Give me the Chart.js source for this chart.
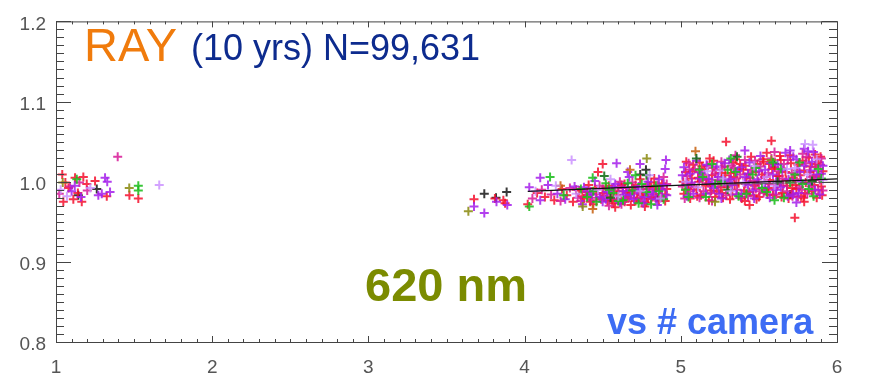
<!DOCTYPE html>
<html>
<head>
<meta charset="utf-8">
<script src="https://cdn.jsdelivr.net/npm/chart.js@4"></script>
<style>
  html, body { margin: 0; padding: 0; background: #fff; }
  #wrap { width: 869px; height: 375px; }
</style>
</head>
<body>
<div id="wrap"><canvas id="chart" width="869" height="375"></canvas></div>
<script>
// ---- axis ticks ----
const xTicks = [1, 2, 3, 4, 5, 6];
const yTicks = [0.8, 0.9, 1.0, 1.1, 1.2];

// ---- points, one list per marker colour ----
const redPts = [
  [1.04,1.009],[1.175,1.006],[1.122,1.005],[1.25,1.001],[1.197,0.997],[1.325,0.982],[1.047,0.975],
  [1.111,0.978],[1.165,0.975],[1.47,0.983],[1.527,0.979],[1.08,0.992],[1.14,0.986],[1.06,0.999],
  [3.676,0.978],[3.81,0.979],[3.864,0.977],[3.875,0.973],
  [4.02,0.972],[4.08,0.986],[4.13,0.981],[4.19,0.977],[4.24,0.991],[4.27,0.983],[4.31,0.975],[4.35,0.989],
  [4.38,0.979],[4.41,0.996],[4.44,0.972],[4.46,0.985],[4.49,0.978],[4.52,0.993],[4.55,0.981],[4.57,0.973],
  [4.6,0.988],[4.62,0.977],[4.64,0.997],[4.66,0.982],[4.68,0.971],[4.7,0.99],[4.72,0.979],[4.74,1.003],
  [4.76,0.985],[4.78,0.974],[4.8,0.994],[4.82,0.981],[4.84,0.989],[4.86,0.976],[4.88,0.998],[4.9,0.984],
  [4.47,1.012],[4.58,0.968],[4.71,0.996],[4.83,1.004],[4.65,0.986],[4.53,0.976],[4.91,0.991],[4.77,0.969],
  [4.5,1.022],
  [4.33,0.99],[4.37,0.982],[4.42,0.975],[4.45,0.992],[4.5,0.986],[4.54,0.995],[4.59,0.983],[4.62,0.996],
  [4.67,0.988],[4.71,0.976],[4.75,0.983],[4.79,0.979],[4.83,0.993],[4.87,0.991],[4.9,0.976],[4.56,0.977],
  [4.69,0.993],[4.81,0.999],[4.64,0.975],[4.4,0.987],
  [5.02,0.985],[5.03,1.012],[5.05,0.997],[5.06,0.979],[5.08,1.021],[5.1,0.99],[5.11,1.005],[5.13,0.983],
  [5.15,1.016],[5.16,0.995],[5.18,0.977],[5.2,1.008],[5.21,1.026],[5.23,0.988],[5.25,1.001],[5.27,0.98],
  [5.28,1.019],[5.3,0.993],[5.32,1.011],[5.33,0.984],[5.35,1.028],[5.37,0.998],[5.39,0.979],[5.4,1.015],
  [5.42,1.004],[5.44,0.987],[5.45,1.031],[5.47,0.995],[5.49,1.022],[5.5,0.981],[5.52,1.009],[5.54,0.99],
  [5.55,1.036],[5.57,1.002],[5.59,0.983],[5.6,1.018],[5.62,0.996],[5.64,1.027],[5.65,0.986],[5.67,1.012],
  [5.69,0.979],[5.7,1.033],[5.72,1.005],[5.74,0.991],[5.75,1.021],[5.77,0.982],[5.79,1.014],[5.8,0.999],
  [5.82,1.03],[5.84,0.988],[5.85,1.008],[5.87,0.98],[5.88,1.024],[5.9,0.994],[5.91,1.013],[5.12,1.024],
  [5.26,1.011],[5.41,0.976],[5.56,0.992],[5.71,0.985],[5.86,1.034],[5.19,0.996],[5.34,1.006],[5.48,1.012],
  [5.63,1.007],[5.78,1.026],[5.07,1.004],[5.22,0.981],[5.38,1.022],[5.53,1.025],[5.68,0.995],[5.83,1.019],
  [5.015,1.0],[5.045,0.991],[5.075,1.013],[5.105,0.982],[5.135,1.019],[5.165,1.003],[5.195,0.989],[5.225,1.015],
  [5.255,0.993],[5.285,1.008],[5.315,0.978],[5.345,0.996],[5.375,1.016],[5.405,0.989],[5.435,1.01],[5.465,0.983],
  [5.495,1.0],[5.525,1.028],[5.555,0.984],[5.585,1.016],[5.615,1.007],[5.645,0.981],[5.675,1.002],[5.705,1.023],
  [5.735,0.996],[5.765,1.008],[5.795,0.986],[5.825,1.012],[5.855,0.996],[5.885,1.006],[5.905,0.983],[5.035,1.025],
  [5.185,1.029],[5.335,1.024],[5.485,0.978],[5.635,1.032],[5.785,0.98],[5.895,1.031],[5.115,1.0],[5.265,0.986],
  [5.415,1.02],[5.565,1.022],[5.715,0.992],[5.865,1.022],
  [5.29,1.05],[5.58,1.051],[5.73,0.955],[5.79,0.975],[5.44,0.971]
];
const magentaPts = [
  [1.395,1.031],[1.021,0.985],[1.09,0.994],[1.15,0.999],[1.2,0.989],
  [4.05,0.979],[4.11,0.99],[4.17,0.984],[4.23,0.976],[4.29,0.992],[4.34,0.98],[4.39,0.987],[4.43,0.977],
  [4.48,0.995],[4.51,0.983],[4.56,0.99],[4.59,0.978],[4.63,0.992],[4.67,0.98],[4.69,0.999],[4.73,0.987],
  [4.75,0.975],[4.79,0.991],[4.81,0.978],[4.85,0.996],[4.87,0.984],[4.89,1.006],[4.61,1.0],[4.54,0.97],
  [4.36,0.976],[4.41,0.983],[4.46,0.98],[4.5,0.991],[4.55,0.985],[4.6,0.994],[4.65,0.979],[4.7,0.985],
  [4.74,0.98],[4.78,0.996],[4.83,0.984],[4.88,0.981],[4.91,0.997],[4.62,0.972],[4.76,0.991],
  [5.01,0.994],[5.04,1.007],[5.06,0.988],[5.09,1.016],[5.12,0.98],[5.14,1.002],[5.17,1.02],[5.19,0.986],
  [5.22,1.01],[5.24,0.994],[5.26,1.025],[5.29,0.983],[5.31,1.003],[5.34,1.017],[5.36,0.99],[5.38,1.009],
  [5.41,1.027],[5.43,0.982],[5.46,1.001],[5.48,0.991],[5.51,1.019],[5.53,0.986],[5.56,1.011],[5.58,1.029],
  [5.61,0.984],[5.63,0.999],[5.66,1.022],[5.68,0.988],[5.71,1.011],[5.73,1.003],[5.76,0.993],[5.78,1.035],
  [5.81,0.985],[5.83,1.006],[5.86,1.018],[5.88,0.99],[5.9,1.029],[5.05,1.023],[5.2,0.976],[5.35,1.033],
  [5.5,0.997],[5.65,1.004],[5.8,1.023],[5.15,1.009],[5.45,1.015],[5.6,1.037],[5.75,0.981],[5.89,1.002],
  [5.025,0.979],[5.055,1.015],[5.085,0.993],[5.115,1.012],[5.145,0.988],[5.175,0.998],[5.205,1.017],[5.235,1.002],
  [5.265,1.018],[5.295,0.995],[5.325,1.02],[5.355,1.004],[5.385,0.981],[5.415,0.997],[5.445,1.005],[5.475,1.026],
  [5.505,0.988],[5.535,1.006],[5.565,0.997],[5.595,0.99],[5.625,1.013],[5.655,0.995],[5.685,1.027],[5.715,0.982],
  [5.745,1.014],[5.775,0.99],[5.805,1.031],[5.835,0.994],[5.865,1.004],[5.895,1.021],[5.91,0.989]
];
const purplePts = [
  [1.314,1.005],[1.328,1.0],[1.293,0.985],[1.271,0.983],[1.346,0.987],[1.1,0.988],[1.12,0.995],[1.16,0.981],
  [3.676,0.969],[3.742,0.961],[3.889,0.971],[3.82,0.975],
  [4.03,0.993],[4.1,0.977],[4.15,0.996],[4.21,0.985],[4.26,0.978],[4.32,0.994],[4.37,0.972],[4.42,0.988],
  [4.45,1.001],[4.5,0.975],[4.53,0.987],[4.58,0.997],[4.61,0.974],[4.64,0.984],[4.67,1.006],[4.7,0.978],
  [4.73,0.994],[4.76,0.973],[4.79,1.0],[4.82,0.987],[4.85,0.971],[4.88,0.99],[4.9,1.016],[4.905,1.027],
  [4.589,1.023],[4.739,1.022],[4.1,1.005],[4.66,1.012],
  [4.38,0.993],[4.43,0.984],[4.48,0.981],[4.52,0.978],[4.57,0.993],[4.63,0.988],[4.68,0.983],[4.72,0.99],
  [4.77,0.981],[4.8,0.985],[4.84,0.978],[4.89,0.996],[4.91,0.983],[4.66,0.993],[4.86,1.003],
  [5.02,1.018],[5.04,0.982],[5.07,0.999],[5.1,1.026],[5.13,1.011],[5.16,0.985],[5.18,1.004],[5.21,0.992],
  [5.23,1.019],[5.26,0.979],[5.28,1.001],[5.31,1.027],[5.33,0.996],[5.36,1.013],[5.39,0.985],[5.41,1.006],
  [5.44,1.024],[5.46,0.989],[5.49,1.003],[5.51,1.032],[5.54,1.015],[5.57,0.98],[5.59,1.009],[5.62,1.021],
  [5.64,0.993],[5.67,1.036],[5.69,1.003],[5.72,0.984],[5.74,1.028],[5.77,1.001],[5.79,1.041],[5.82,0.997],
  [5.84,1.025],[5.87,1.009],[5.89,0.984],[5.91,1.02],[5.06,1.01],[5.24,1.006],[5.43,0.996],[5.61,0.99],
  [5.76,1.012],[5.85,1.037],[5.74,0.974],[5.41,1.039],
  [5.01,1.008],[5.04,0.996],[5.08,0.985],[5.12,1.004],[5.165,1.021],[5.2,0.999],[5.245,0.985],[5.28,1.023],
  [5.32,1.003],[5.355,0.984],[5.39,1.018],[5.43,1.01],[5.47,0.979],[5.5,1.013],[5.54,0.993],[5.575,1.023],
  [5.61,1.0],[5.65,1.015],[5.685,0.982],[5.72,1.031],[5.755,0.986],[5.79,1.02],[5.83,1.014],[5.86,0.99],
  [5.9,1.01],[5.815,1.038],[5.7,1.039]
];
const violetPts = [
  [1.03,0.99],[1.07,0.982],[1.661,0.996],[1.22,0.992],
  [4.301,1.027],[4.07,0.988],[4.2,0.995],[4.33,0.985],[4.47,0.99],[4.6,0.982],[4.74,0.988],[4.87,0.979],
  [4.55,1.003],[4.8,1.008],
  [5.03,1.0],[5.11,0.993],[5.17,1.013],[5.27,1.004],[5.32,0.988],[5.4,0.999],[5.47,1.02],[5.53,1.0],
  [5.6,0.995],[5.68,1.016],[5.73,1.017],[5.81,1.009],[5.87,1.028],[5.91,1.002],[5.795,1.047],[5.845,1.046],
  [5.25,1.014],[5.55,1.006]
];
const greenPts = [
  [1.133,1.003],[1.527,0.995],[1.527,0.989],
  [4.03,0.969],[4.163,1.006],[4.25,0.983],[4.36,0.991],[4.4,0.981],[4.46,0.975],[4.52,0.998],[4.57,0.986],
  [4.63,0.977],[4.69,0.989],[4.75,0.997],[4.81,0.972],[4.86,0.988],[4.71,1.008],[4.436,1.005],
  [4.44,0.988],[4.54,0.99],[4.6,0.976],[4.66,0.998],[4.73,0.973],[4.78,0.987],[4.84,0.995],[4.89,0.978],
  [5.05,0.981],[5.14,1.006],[5.22,0.997],[5.3,1.015],[5.37,0.982],[5.46,1.009],[5.52,0.992],[5.59,1.024],
  [5.66,0.98],[5.73,1.009],[5.82,0.991],[5.88,1.016],[5.42,0.985],[5.2,1.022],[5.78,0.997],[5.6,0.977],
  [5.32,1.029],
  [5.03,0.99],[5.16,0.981],[5.26,1.0],[5.35,1.012],[5.48,1.017],[5.55,0.987],[5.64,1.016],[5.7,0.999],
  [5.76,1.024],[5.85,0.982],[5.9,1.004],[5.12,1.015]
];
const darkGreenPts = [
  [4.51,1.007],[4.78,1.008],[4.55,0.98],[5.1,1.029],[5.36,1.031],[5.62,1.0],[5.84,1.001],[5.3,0.99]
];
const olivePts = [
  [1.043,0.999],[1.469,0.992],[3.64,0.963],[4.372,0.969],[4.782,1.029],[5.219,0.975],[5.58,1.027]
];
const orangePts = [
  [4.436,0.966],[4.675,1.015],[5.094,1.038],[4.23,0.995]
];
const blackPts = [
  [1.261,0.991],[1.143,0.983],[3.742,0.985],[3.817,0.98],[3.885,0.987],[4.777,1.015],[4.74,1.009],
  [5.6,1.022],[5.7,0.984],[4.85,0.98]
];

// fitted trend lines
const trendX = [4.02, 6.0];
const trendY = [0.988, 1.0035];
const trend2X = [5.0, 6.0];
const trend2Y = [0.9958, 0.9995];

const toXY = pts => pts.map(p => ({ x: p[0], y: p[1] }));

function crossSet(pts, color) {
    return {
        type: 'scatter',
        data: toXY(pts),
        pointStyle: 'cross',
        pointRadius: 4.5,
        pointBorderWidth: 2,
        borderColor: color,
        backgroundColor: color,
        order: 2
    };
}

// frame + IDL style inward ticks on all four sides, and the text labels
const framePlugin = {
    id: 'frame',
    afterDraw(chart) {
        const { ctx, chartArea: a, scales } = chart;
        const xs = scales.x, ys = scales.y;
        ctx.save();
        ctx.strokeStyle = '#444';
        ctx.lineWidth = 1;
        ctx.strokeRect(a.left + 0.5, a.top + 0.5, a.right - a.left, a.bottom - a.top);
        ctx.beginPath();
        // y ticks, minor every 0.01
        for (let i = 0; i <= 40; i++) {
            const v = 0.8 + i * 0.01;
            const py = Math.round(ys.getPixelForValue(v)) + 0.5;
            const len = (i % 10 === 0) ? 15 : 8;
            ctx.moveTo(a.left, py); ctx.lineTo(a.left + len, py);
            ctx.moveTo(a.right, py); ctx.lineTo(a.right - len, py);
        }
        // x ticks, minor every 0.1
        for (let i = 0; i <= 50; i++) {
            const v = 1 + i * 0.1;
            const px = Math.round(xs.getPixelForValue(v)) + 0.5;
            const len = (i % 10 === 0) ? 6 : 3;
            ctx.moveTo(px, a.bottom); ctx.lineTo(px, a.bottom - len);
            ctx.moveTo(px, a.top); ctx.lineTo(px, a.top + len);
        }
        ctx.stroke();

        ctx.textBaseline = 'alphabetic';
        ctx.textAlign = 'left';
        ctx.fillStyle = '#F07B0C';
        ctx.font = '47px "Liberation Sans", Arial, sans-serif';
        ctx.fillText('RAY', 84, 61);
        ctx.fillStyle = '#0D2B8E';
        ctx.font = '36px "Liberation Sans", Arial, sans-serif';
        ctx.fillText('(10 yrs) N=99,631', 191, 60);
        ctx.fillStyle = '#7B8B00';
        ctx.font = 'bold 47px "Liberation Sans", Arial, sans-serif';
        ctx.fillText('620 nm', 365, 301);
        ctx.fillStyle = '#3D6CF4';
        ctx.font = 'bold 36px "Liberation Sans", Arial, sans-serif';
        ctx.fillText('vs # camera', 607, 334);
        ctx.restore();
    }
};

const tickFont = { family: '"Liberation Sans", Arial, sans-serif', size: 19 };

new Chart(document.getElementById('chart'), {
    type: 'scatter',
    data: {
        datasets: [
            {
                type: 'line',
                data: trendX.map((x, i) => ({ x, y: trendY[i] })),
                borderColor: '#111',
                borderWidth: 1.2,
                pointRadius: 0,
                fill: false,
                order: 0
            },
            {
                type: 'line',
                data: trend2X.map((x, i) => ({ x, y: trend2Y[i] })),
                borderColor: 'rgba(90,90,90,0.8)',
                borderWidth: 1,
                pointRadius: 0,
                fill: false,
                order: 1
            },
            crossSet(violetPts, 'rgba(200,140,255,0.8)'),
            crossSet(greenPts, 'rgba(30,190,30,0.88)'),
            crossSet(darkGreenPts, 'rgba(20,110,20,0.88)'),
            crossSet(olivePts, 'rgba(140,140,20,0.88)'),
            crossSet(orangePts, 'rgba(200,100,20,0.88)'),
            crossSet(purplePts, 'rgba(165,30,235,0.85)'),
            crossSet(magentaPts, 'rgba(215,25,150,0.85)'),
            crossSet(redPts, 'rgba(245,15,45,0.85)'),
            crossSet(blackPts, 'rgba(30,30,30,0.88)')
        ]
    },
    options: {
        responsive: false,
        animation: false,
        devicePixelRatio: 1,
        layout: { padding: { top: 9, right: 32, left: 0, bottom: 0 } },
        plugins: { legend: { display: false }, tooltip: { enabled: false } },
        scales: {
            x: {
                type: 'linear',
                min: 1, max: 6,
                grid: { display: false, drawTicks: false },
                border: { display: false },
                afterBuildTicks: s => { s.ticks = xTicks.map(v => ({ value: v })); },
                afterFit: s => { s.height = 33; },
                ticks: { color: '#555', font: tickFont, padding: 14, maxRotation: 0,
                         callback: v => String(v) }
            },
            y: {
                type: 'linear',
                min: 0.8, max: 1.2,
                grid: { display: false, drawTicks: false },
                border: { display: false },
                afterBuildTicks: s => { s.ticks = yTicks.map(v => ({ value: v })); },
                afterFit: s => { s.width = 56; },
                ticks: { color: '#555', font: tickFont, padding: 10, labelOffset: 3,
                         callback: v => Number(v).toFixed(1) }
            }
        }
    },
    plugins: [framePlugin]
});
</script>
</body>
</html>
